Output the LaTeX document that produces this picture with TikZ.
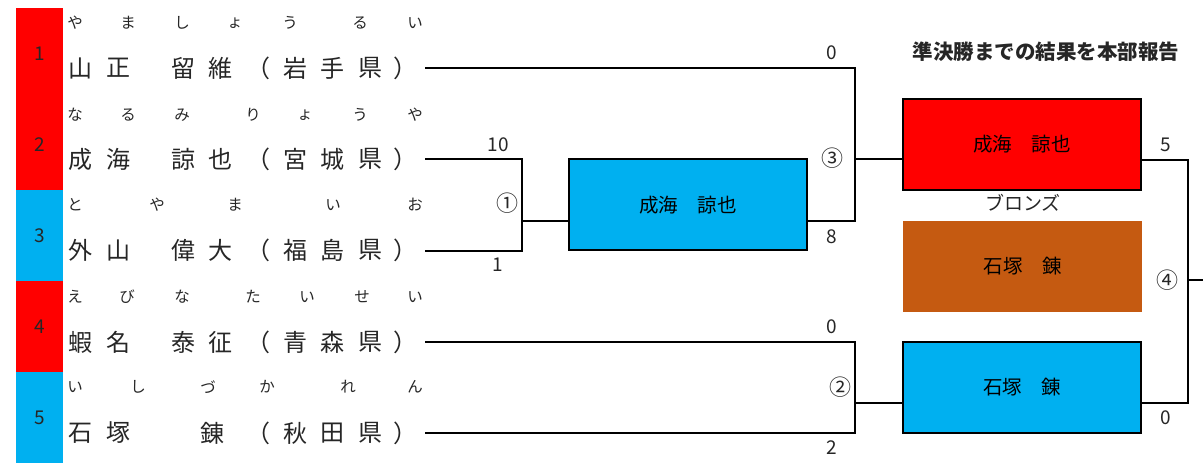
\documentclass[tikz,border=0pt]{standalone}
\usepackage{fontspec}
\setmainfont{Noto Sans CJK JP}
\definecolor{jred}{HTML}{FF0000}
\definecolor{jblue}{HTML}{00B0F0}
\definecolor{jbrown}{HTML}{C55A11}
\begin{document}
\begin{tikzpicture}[x=1pt,y=-1pt,
  seed/.style={minimum width=47pt,minimum height=91.6pt,inner sep=0pt,font=\fontsize{19}{21}\selectfont,text=black!85},
  nm/.style={inner sep=0pt,anchor=center,font=\fontsize{24}{26}\selectfont,text=black!85},
  kana/.style={inner sep=0pt,anchor=center,font=\fontsize{15.5}{17}\selectfont,text=black!85},
  res/.style={draw=black,line width=2pt,minimum width=238pt,minimum height=91pt,inner sep=0pt,font=\fontsize{19.5}{21}\selectfont},
  score/.style={inner sep=0pt,font=\fontsize{19}{21}\selectfont,text=black!85},
  circ/.style={inner sep=0pt,font=\fontsize{22}{24}\selectfont,text=black!85},
  conn/.style={line width=2pt,black}]
\useasboundingbox (0,0) rectangle (1203,470);
% seed bars
\node[seed,fill=jred]  (s1) at (39.5,53.5) {1};
\node[seed,fill=jred]  (s2) at (39.5,144.5) {2};
\node[seed,fill=jblue] (s3) at (39.5,235.5) {3};
\node[seed,fill=jred]  (s4) at (39.5,326.5) {4};
\node[seed,fill=jblue] (s5) at (39.5,417.5) {5};
% furigana
\foreach \x/\c [count=\i] in {75/や,128/ま,182/し,235/ょ,290/う,360/る,415/い}
  \node[kana] (fa\i) at (\x,23) {\c};
\foreach \x/\c [count=\i] in {75/な,128/る,182/み,253/り,305/ょ,360/う,415/や}
  \node[kana] (fb\i) at (\x,115) {\c};
\foreach \x/\c [count=\i] in {75/と,157/や,235/ま,333/い,415/お}
  \node[kana] (fc\i) at (\x,205) {\c};
\foreach \x/\c [count=\i] in {75/え,127/び,182/な,253/た,307/い,362/せ,415/い}
  \node[kana] (fd\i) at (\x,297) {\c};
\foreach \x/\c [count=\i] in {75/い,138/し,208/づ,267/か,348/れ,415/ん}
  \node[kana] (fe\i) at (\x,387) {\c};
% names
\foreach \x/\c [count=\i] in {80/山,118/正,183/留,220/維,258/（,295/岩,332/手,370/県,405/）}
  \node[nm] (na\i) at (\x,68) {\c};
\foreach \x/\c [count=\i] in {80/成,118/海,183/諒,220/也,258/（,295/宮,332/城,370/県,405/）}
  \node[nm] (nb\i) at (\x,159) {\c};
\foreach \x/\c [count=\i] in {80/外,118/山,183/偉,220/大,258/（,295/福,332/島,370/県,405/）}
  \node[nm] (nc\i) at (\x,250) {\c};
\foreach \x/\c [count=\i] in {80/蝦,118/名,183/泰,220/征,258/（,295/青,332/森,370/県,405/）}
  \node[nm] (nd\i) at (\x,342) {\c};
\foreach \x/\c [count=\i] in {80/石,118/塚,212/錬,258/（,295/秋,332/田,370/県,405/）}
  \node[nm] (ne\i) at (\x,433) {\c};
% result boxes
\node[res,fill=jblue] (b1) at (688,205) {成海　諒也};
\node[res,fill=jred]  (b2) at (1022,144.5) {成海　諒也};
\node[minimum width=239pt,minimum height=91pt,inner sep=0pt,fill=jbrown,font=\fontsize{19.5}{21}\selectfont] (b3) at (1022.5,266.5) {石塚　錬};
\node[res,fill=jblue] (b4) at (1022,387.5) {石塚　錬};
\node[inner sep=0pt,font=\fontsize{19}{21}\selectfont,text=black!85] (bron) at (1023,203) {ブロンズ};
\node[inner sep=0pt,font=\bfseries\fontsize{20.5}{22}\selectfont,text=black!85] (title) at (1046,52) {準決勝までの結果を本部報告};
% line ends
\coordinate (e1) at (425,68);
\coordinate (e2) at (425,159);
\coordinate (e3) at (425,251);
\coordinate (e4) at (425,342);
\coordinate (e5) at (425,433);
\coordinate (j1) at (522,221);
\coordinate (j3a) at (855,221);
\coordinate (j3b) at (855,159);
\coordinate (j2) at (855,403);
\coordinate (j4) at (1188,280);
\coordinate (fin) at (1204,280);
% connectors
\draw[conn] (e2) -| (j1) |- (e3);
\draw[conn] (j1) -- (j1 -| b1.west);
\draw[conn] (e1) -| (j3a) -- (j3a -| b1.east);
\draw[conn] (j3b) -- (j3b -| b2.west);
\draw[conn] (e4) -| (j2) |- (e5);
\draw[conn] (j2) -- (j2 -| b4.west);
\draw[conn] (b2.east |- 0,160) -| (j4) |- (b4.east |- 0,403);
\draw[conn] (j4) -- (fin);
% scores and match numbers
\node[score] (sc1) at (498,145) {10};
\node[score] (sc2) at (498,265) {1};
\node[circ] (m1) at (507,203) {①};
\node[score] (sc3) at (832,53) {0};
\node[circ] (m3) at (832,158) {③};
\node[score] (sc4) at (832,237) {8};
\node[score] (sc5) at (832,327) {0};
\node[circ] (m2) at (840,387) {②};
\node[score] (sc6) at (832,448) {2};
\node[score] (sc7) at (1166,145) {5};
\node[circ] (m4) at (1167,280) {④};
\node[score] (sc8) at (1166,418) {0};
\end{tikzpicture}
\end{document}
